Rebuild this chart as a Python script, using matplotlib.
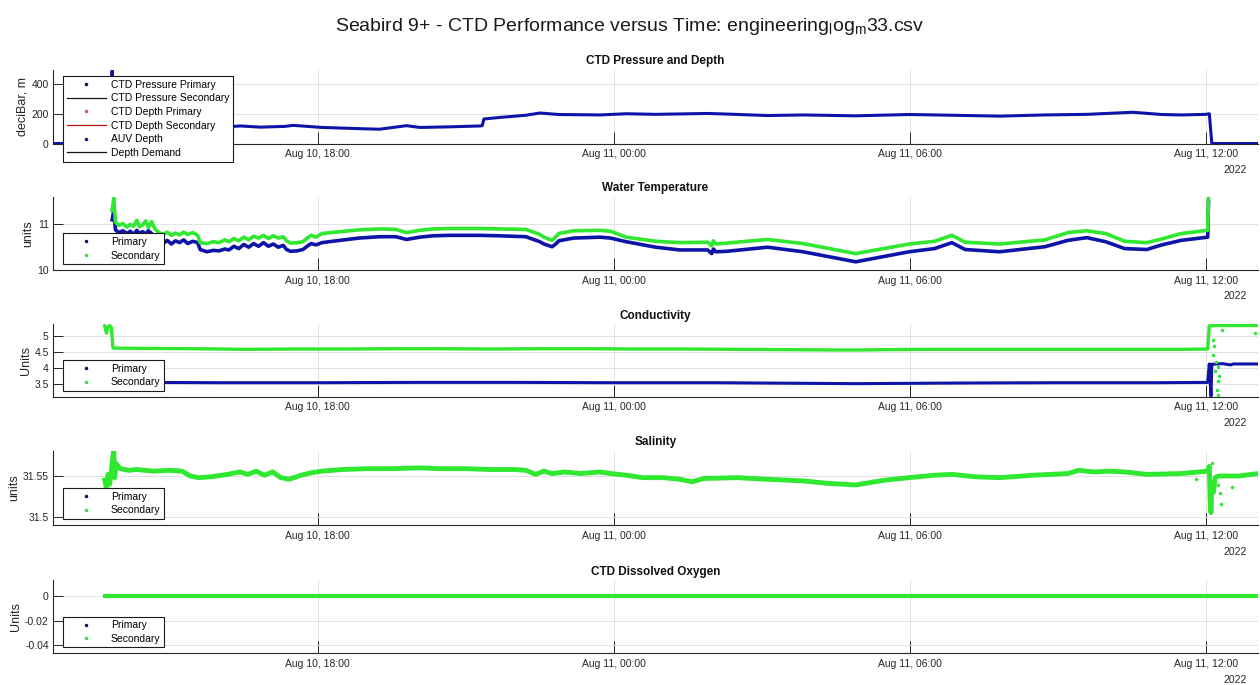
import matplotlib
matplotlib.use('Agg')
import matplotlib.pyplot as plt
import matplotlib.dates as mdates
import pandas as pd
from matplotlib.lines import Line2D
from matplotlib.ticker import FuncFormatter

plt.rcParams['font.family'] = ['Liberation Sans', 'DejaVu Sans']
plt.rcParams['axes.unicode_minus'] = False
plt.rcParams['mathtext.default'] = 'regular'

# ---------------- data (times are "day HH:MM" in Aug 2022) ----------------
XLIM = ['10 12:38', '11 13:03']

press_t = ['10 12:38', '10 13:47', '10 13:50', '10 13:51', '10 14:11', '10 14:36', '10 15:00',
           '10 15:34', '10 16:07', '10 16:26', '10 16:50', '10 17:20', '10 17:30', '10 18:05',
           '10 18:50', '10 19:15', '10 19:48', '10 20:04', '10 20:40', '10 21:17', '10 21:20',
           '10 21:22', '10 21:41', '10 22:13', '10 22:30', '10 22:53', '10 23:43', '11 00:15',
           '11 00:51', '11 01:54', '11 02:17', '11 03:07', '11 03:50', '11 04:54', '11 05:59',
           '11 06:51', '11 07:49', '11 08:44', '11 09:35', '11 10:31', '11 11:06', '11 11:30',
           '11 12:00', '11 12:04', '11 12:07', '11 13:03']
press_primary = [0, 0, 490, 100, 105, 98, 108,
                 102, 112, 118, 110, 115, 122, 108,
                 100, 96, 120, 108, 112, 118, 120,
                 165, 175, 190, 205, 195, 192, 200,
                 196, 202, 198, 188, 192, 186, 195,
                 190, 184, 192, 196, 210, 195, 192,
                 196, 200, 0, 0]

temp_t = ['10 13:50', '10 13:52', '10 13:54', '10 13:58', '10 14:03', '10 14:08', '10 14:12',
          '10 14:16', '10 14:20', '10 14:23', '10 14:27', '10 14:31', '10 14:34', '10 14:38',
          '10 14:42', '10 14:47', '10 14:52', '10 14:57', '10 15:02', '10 15:07', '10 15:12',
          '10 15:17', '10 15:22', '10 15:28', '10 15:34', '10 15:37', '10 15:45', '10 15:53',
          '10 16:00', '10 16:07', '10 16:12', '10 16:18', '10 16:24', '10 16:30', '10 16:36',
          '10 16:42', '10 16:48', '10 16:54', '10 17:00', '10 17:06', '10 17:12', '10 17:18',
          '10 17:22', '10 17:27', '10 17:35', '10 17:42', '10 17:47', '10 17:52', '10 17:58',
          '10 18:05', '10 18:27', '10 18:50', '10 19:15', '10 19:35', '10 19:48', '10 20:04',
          '10 20:20', '10 20:40', '10 21:17', '10 21:41', '10 22:13', '10 22:30', '10 22:35',
          '10 22:45', '10 22:50', '10 22:53', '10 23:11', '10 23:43', '10 23:56', '11 00:15',
          '11 00:51', '11 01:20', '11 01:54', '11 01:59', '11 02:01', '11 02:04', '11 02:17',
          '11 03:07', '11 03:50', '11 04:54', '11 05:59', '11 06:30', '11 06:51', '11 07:07',
          '11 07:49', '11 08:44', '11 09:12', '11 09:35', '11 09:58', '11 10:21', '11 10:48',
          '11 11:06', '11 11:30', '11 12:02', '11 12:03']
temp_secondary = [11.30, 11.58, 11.05, 10.98, 11.02, 10.94, 11.00,
                  10.96, 11.09, 10.95, 10.99, 11.08, 10.93, 11.06,
                  10.90, 10.82, 10.78, 10.83, 10.76, 10.81, 10.77,
                  10.83, 10.78, 10.82, 10.76, 10.60, 10.58, 10.62,
                  10.60, 10.66, 10.62, 10.69, 10.64, 10.72, 10.66,
                  10.74, 10.70, 10.76, 10.69, 10.75, 10.70, 10.73,
                  10.64, 10.59, 10.60, 10.62, 10.70, 10.76, 10.72,
                  10.80, 10.84, 10.88, 10.90, 10.89, 10.82, 10.87,
                  10.90, 10.91, 10.91, 10.90, 10.89, 10.78, 10.72,
                  10.65, 10.74, 10.80, 10.86, 10.87, 10.85, 10.72,
                  10.63, 10.60, 10.61, 10.53, 10.64, 10.57, 10.59,
                  10.67, 10.58, 10.36, 10.57, 10.63, 10.76, 10.61,
                  10.57, 10.66, 10.82, 10.86, 10.80, 10.63, 10.60,
                  10.68, 10.80, 10.87, 11.59]
temp_primary = [11.10, 11.30, 10.88, 10.82, 10.86, 10.80, 10.85,
                10.78, 10.87, 10.80, 10.84, 10.79, 10.86, 10.80,
                10.70, 10.62, 10.58, 10.65, 10.57, 10.64, 10.60,
                10.66, 10.58, 10.63, 10.60, 10.45, 10.40, 10.43,
                10.42, 10.46, 10.44, 10.52, 10.47, 10.56, 10.50,
                10.58, 10.52, 10.60, 10.52, 10.57, 10.50, 10.54,
                10.45, 10.41, 10.42, 10.45, 10.52, 10.58, 10.55,
                10.60, 10.65, 10.70, 10.73, 10.73, 10.67, 10.72,
                10.75, 10.76, 10.76, 10.75, 10.73, 10.62, 10.57,
                10.51, 10.58, 10.64, 10.70, 10.72, 10.70, 10.62,
                10.50, 10.44, 10.44, 10.36, 10.46, 10.40, 10.41,
                10.50, 10.40, 10.18, 10.40, 10.47, 10.60, 10.45,
                10.40, 10.51, 10.65, 10.71, 10.62, 10.47, 10.45,
                10.55, 10.65, 10.72, 11.50]

cond_t2 = ['10 13:41', '10 13:43', '10 13:45', '10 13:47', '10 13:49', '10 13:51', '10 14:30',
           '10 15:30', '10 16:30', '10 17:30', '10 18:30', '10 19:30', '10 20:30', '10 21:30',
           '10 22:30', '10 23:30', '11 00:30', '11 01:30', '11 02:30', '11 03:30', '11 04:30',
           '11 05:00', '11 05:30', '11 06:30', '11 07:30', '11 08:30', '11 09:30', '11 10:30',
           '11 11:30', '11 12:02', '11 12:04', '11 12:15', '11 13:03']
cond_secondary = [5.33, 5.10, 5.30, 5.34, 5.28, 4.63, 4.62,
                  4.61, 4.59, 4.60, 4.60, 4.61, 4.61, 4.60,
                  4.61, 4.61, 4.60, 4.60, 4.59, 4.58, 4.57,
                  4.57, 4.58, 4.59, 4.59, 4.59, 4.59, 4.59,
                  4.59, 4.60, 5.33, 5.34, 5.34]
cond_t1 = ['10 13:41', '10 14:30', '10 16:00', '10 18:00', '10 20:00', '10 22:00', '11 00:00',
           '11 02:00', '11 04:54', '11 07:00', '11 09:00', '11 11:00', '11 12:02', '11 12:04',
           '11 12:06', '11 12:07', '11 12:20', '11 12:30', '11 12:33', '11 13:03']
cond_primary = [3.56, 3.55, 3.54, 3.54, 3.55, 3.55, 3.54,
                3.54, 3.51, 3.53, 3.54, 3.54, 3.55, 4.13,
                3.12, 4.12, 4.14, 4.10, 4.13, 4.13]
cond_out_t = ['11 12:08', '11 12:09', '11 12:10', '11 12:11', '11 12:12', '11 12:13',
              '11 12:14', '11 12:15', '11 12:15', '11 12:16', '11 12:20', '11 13:00']
cond_out = [4.9, 4.4, 4.7, 3.9, 4.2, 3.3, 3.6, 3.15, 4.05, 3.75, 5.2, 5.09]

sal_t = ['10 13:41', '10 13:43', '10 13:45', '10 13:47', '10 13:49', '10 13:51', '10 13:52',
         '10 13:53', '10 13:55', '10 14:00', '10 14:10', '10 14:20', '10 14:40', '10 15:00',
         '10 15:15', '10 15:25', '10 15:35', '10 15:50', '10 16:10', '10 16:25', '10 16:35',
         '10 16:45', '10 16:55', '10 17:05', '10 17:15', '10 17:25', '10 17:40', '10 17:52',
         '10 18:05', '10 18:30', '10 19:00', '10 19:30', '10 20:04', '10 20:30', '10 21:00',
         '10 21:30', '10 22:00', '10 22:13', '10 22:25', '10 22:35', '10 22:45', '10 23:00',
         '10 23:20', '10 23:43', '10 23:56', '11 00:15', '11 00:35', '11 01:00', '11 01:20',
         '11 01:35', '11 01:50', '11 02:30', '11 03:07', '11 03:50', '11 04:20', '11 04:54',
         '11 05:30', '11 05:59', '11 06:30', '11 06:51', '11 07:20', '11 07:49', '11 08:30',
         '11 09:12', '11 09:25', '11 09:45', '11 10:00', '11 10:21', '11 10:48', '11 11:30',
         '11 12:02', '11 12:04', '11 12:05', '11 12:06', '11 12:07', '11 12:09', '11 12:11',
         '11 12:15', '11 12:40', '11 13:03']
sal_secondary = [31.545, 31.535, 31.552, 31.540, 31.556, 31.575, 31.581,
                 31.548, 31.565, 31.559, 31.557, 31.558, 31.556, 31.557,
                 31.556, 31.550, 31.548, 31.549, 31.552, 31.555, 31.552,
                 31.556, 31.551, 31.555, 31.548, 31.546, 31.551, 31.554,
                 31.556, 31.558, 31.559, 31.559, 31.560, 31.559, 31.559,
                 31.558, 31.558, 31.557, 31.552, 31.556, 31.553, 31.555,
                 31.553, 31.555, 31.553, 31.551, 31.548, 31.548, 31.546,
                 31.543, 31.547, 31.548, 31.546, 31.544, 31.541, 31.539,
                 31.545, 31.548, 31.551, 31.552, 31.549, 31.548, 31.551,
                 31.553, 31.557, 31.555, 31.556, 31.555, 31.552, 31.553,
                 31.556, 31.562, 31.520, 31.505, 31.540, 31.530, 31.548,
                 31.550, 31.550, 31.553]
sal_out_t = ['11 11:48', '11 12:07', '11 12:14', '11 12:17', '11 12:18', '11 12:31']
sal_out = [31.546, 31.566, 31.539, 31.529, 31.515, 31.536]

do_t = ['10 13:41', '11 13:03']
do_secondary = [0.0, 0.0]

# ---------------- styling ----------------
BLUE = '#0f14a8'
GREEN = '#2fe82f'
DARK = '#262626'
GRID = '#e3e3e3'


def T(lst):
    return pd.to_datetime(['2022-08-' + s for s in lst], format='%Y-%m-%d %H:%M')


fig = plt.figure(figsize=(12.6, 6.85), dpi=100)
fig.suptitle(r'Seabird 9+ - CTD Performance versus Time: engineering$_{l}$og$_{m}$33.csv',
             y=0.976, fontsize=14, color='#1a1a1a')

positions = [(0.042, 0.7905, 0.9563, 0.1075),
             (0.042, 0.6058, 0.9563, 0.1066),
             (0.042, 0.4209, 0.9563, 0.1055),
             (0.042, 0.2336, 0.9563, 0.1083),
             (0.042, 0.0463, 0.9563, 0.1066)]
titles = ['CTD Pressure and Depth', 'Water Temperature', 'Conductivity', 'Salinity',
          'CTD Dissolved Oxygen']
ylabels = ['deciBar, m', 'units', 'Units', 'units', 'Units']
ylims = [(0, 495), (10, 11.6), (3.1, 5.375), (31.4898, 31.581), (-0.0468, 0.0131)]
yticks = [[0, 200, 400], [10, 11], [3.5, 4, 4.5, 5], [31.5, 31.55], [-0.04, -0.02, 0]]

axes = []
for i, pos in enumerate(positions):
    ax = fig.add_axes(pos)
    axes.append(ax)
    ax.set_xlim(T(XLIM))
    ax.set_ylim(*ylims[i])
    ax.set_yticks(yticks[i])
    ax.yaxis.set_major_formatter(FuncFormatter(lambda v, p: '%g' % round(v, 4)))
    ax.xaxis.set_major_locator(mdates.HourLocator(byhour=[0, 6, 12, 18]))
    ax.xaxis.set_major_formatter(mdates.DateFormatter('%b %d, %H:%M'))
    ax.grid(True, color=GRID, linewidth=0.7)
    ax.set_axisbelow(True)
    for s in ['top', 'right']:
        ax.spines[s].set_visible(False)
    for s in ['left', 'bottom']:
        ax.spines[s].set_color(DARK)
        ax.spines[s].set_linewidth(0.8)
    ax.tick_params(axis='both', direction='in', colors=DARK, labelsize=7.5, width=0.7)
    ax.tick_params(axis='x', length=9, pad=4)
    ax.tick_params(axis='y', length=7, pad=3)
    ax.set_title(titles[i], fontsize=8.5, fontweight='bold', pad=4, color='#111111')
    ax.set_ylabel(ylabels[i], fontsize=9, color=DARK, labelpad=2)
    ax.text(0.991, -0.36, '2022', transform=ax.transAxes, ha='right', va='center',
            fontsize=7.5, color=DARK)

leg_kw = dict(fontsize=7.5, frameon=True, fancybox=False, framealpha=1, edgecolor='#1a1a1a',
              borderpad=0.35, labelspacing=0.35, handlelength=3.8, handletextpad=0.45,
              borderaxespad=0)

# Panel 1: pressure / depth
ax = axes[0]
ax.plot(T(press_t), press_primary, color=BLUE, lw=2.2, zorder=3)
h1 = [Line2D([], [], ls='none', marker='.', ms=3, color='#101040'),
      Line2D([], [], color='#111111', lw=0.9),
      Line2D([], [], ls='none', marker='.', ms=3, color='#e05050'),
      Line2D([], [], color='#b01010', lw=0.9),
      Line2D([], [], ls='none', marker='.', ms=3, color='#1a1a90'),
      Line2D([], [], color='#111111', lw=0.9)]
l1 = ['CTD Pressure Primary', 'CTD Pressure Secondary', 'CTD Depth Primary',
      'CTD Depth Secondary', 'AUV Depth', 'Depth Demand']
lg = ax.legend(h1, l1, loc='upper left', bbox_to_anchor=(0.0083, 0.915), **leg_kw)
lg.get_frame().set_linewidth(0.8)
lg.set_zorder(10)

# Panel 2: temperature
ax = axes[1]
ax.plot(T(temp_t), temp_primary, color=BLUE, lw=2.6, zorder=3)
ax.plot(T(temp_t), temp_secondary, color=GREEN, lw=2.6, zorder=4)

# Panel 3: conductivity
ax = axes[2]
ax.plot(T(cond_t1), cond_primary, color=BLUE, lw=2.2, zorder=3)
ax.plot(T(cond_t2), cond_secondary, color=GREEN, lw=2.4, zorder=4)
ax.plot(T(cond_out_t), cond_out, ls='none', marker='.', ms=3, color=GREEN, zorder=4)

# Panel 4: salinity
ax = axes[3]
ax.plot(T(sal_t), sal_secondary, color=GREEN, lw=3.5, zorder=4)
ax.plot(T(sal_out_t), sal_out, ls='none', marker='.', ms=3, color=GREEN, zorder=4)

# Panel 5: dissolved oxygen
ax = axes[4]
ax.plot(T(do_t), do_secondary, color=GREEN, lw=3, zorder=4)

h2 = [Line2D([], [], ls='none', marker='.', ms=3, color='#101060'),
      Line2D([], [], ls='none', marker='.', ms=3, color=GREEN)]
for ax in axes[1:]:
    lg = ax.legend(h2, ['Primary', 'Secondary'], loc='lower left',
                   bbox_to_anchor=(0.0083, 0.08), **leg_kw)
    lg.get_frame().set_linewidth(0.8)
    lg.set_zorder(10)

fig.savefig('out.png', dpi=100)
